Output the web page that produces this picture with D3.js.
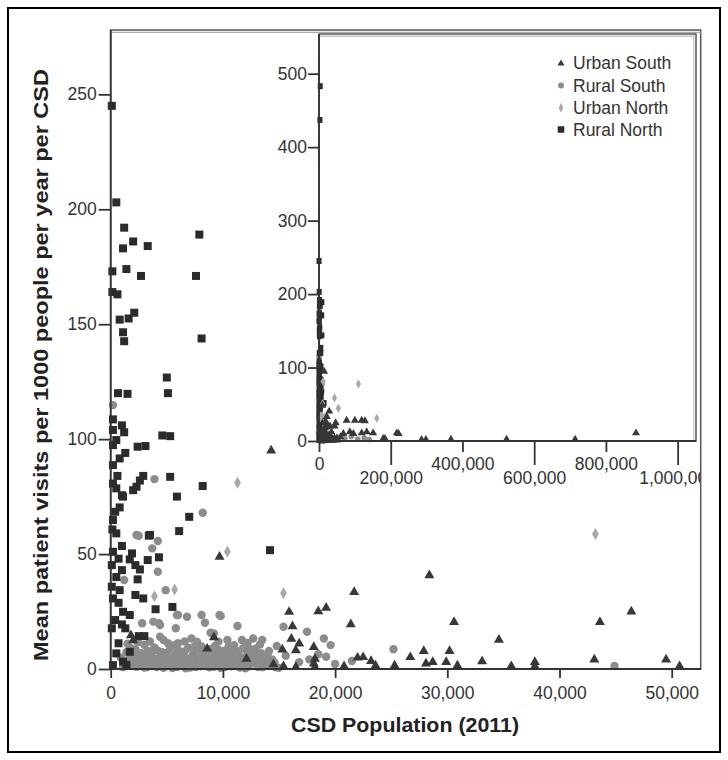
<!DOCTYPE html>
<html>
<head>
<meta charset="utf-8">
<script src="https://cdn.jsdelivr.net/npm/d3@7"></script>
<style>
  html, body { margin: 0; padding: 0; background: #fff; }
  svg { display: block; }
</style>
</head>
<body>
<svg id="chart" width="728" height="760"></svg>
<script>
// ---------------- DATA: [CSD population, mean visits per 1000 per year] ----------------
const seriesNames = ["Urban South", "Rural South", "Urban North", "Rural North"];

const urbanSouth = [
  [14300,95.2],[9700,49],[15900,25],[18500,25.3],[19200,26.8],[16200,18.7],[16100,13.3],[16800,11.2],
  [18100,9.7],[28400,40.9],[21700,33.6],[21400,19.6],[30600,20.6],[16500,8.3],[18200,4.6],[26700,5.3],
  [27900,8],[30200,8],[28700,3.2],[28100,2.5],[29900,3.2],[30900,1.7],[25300,1.7],[33100,3.5],[22000,5.1],
  [22500,5.3],[23200,3.6],[23600,1.7],[20800,1.3],[18100,2.5],[16500,1],[18200,1],[46400,25.2],[43600,20.6],
  [34600,12.9],[43100,4.3],[49500,4.3],[50700,1.4],[37800,3.2],[37800,1.4],[35700,1.4],[15300,8.6],
  [14500,2.2],[15400,1.3],[9200,14],[8600,9],[12100,4.6],[1800,14.8],[2000,12.6],
  [77000,28.6],[100000,28.6],[119000,28.6],[128000,27.7],[68000,10.5],[86000,12.7],[96000,10.5],
  [119000,11.3],[133000,12.7],[151000,11.3],[60000,6],[179000,3.7],[184000,3.7],[217000,11.3],
  [222000,10.5],[286000,2.3],[298000,2.3],[368000,2.7],[523000,2.7],[714000,2.7],[884000,11.3]
];

const ruralSouth = [
  [200,114.8],[3900,82.6],[8200,68],[2500,58],[4200,55.7],[3700,52.5],[4200,42.3],[4900,34.3],[2300,58.3],
  [5900,23.5],[4300,19.9],[9800,23],[8100,23.5],[6800,22.7],[11300,18.7],[15400,18.4],[17500,16.2],
  [5100,11.2],[7200,13.3],[13500,12.6],[9200,15.5],[19000,13.3],[19600,10.4],[18500,6.4],[19200,5.3],
  [25200,8.6],[21500,3.5],[20000,2.2],[44900,1.3],[6000,23.5],[9700,23.5],[8400,20.1],[5800,17.7],
  [3800,20.6],[4400,19.1],[2800,19.9],[8900,15.8],[10400,12.6],[12700,13.3],[11700,12.6],[4400,14],
  [6000,11.2],[9300,10],[8000,8.3],[10700,8.6],[12400,8.6],[13000,2.2],[13800,2.2],[1200,38.7],
  [1600,4],[1900,2],[2100,6],[2300,1],[2500,3.5],[2700,7],[2900,2.5],[3100,5],[3200,0.8],[3400,3],
  [3600,6.5],[3800,1.5],[4000,4.5],[4200,8],[4300,2],[4500,5.5],[4700,0.5],[4800,3.5],[5000,7],[5200,1.8],
  [5400,4.8],[5600,2.6],[5700,6.2],[5900,0.9],[6100,3.9],[6300,5.6],[6400,1.4],[6600,7.6],[6800,2.9],
  [7000,4.4],[7100,0.6],[7300,6],[7500,2.2],[7700,3.6],[7800,5],[8000,1.2],[8200,7.2],[8400,3.1],
  [8600,4.8],[8800,0.7],[9000,2.6],[9100,6.4],[9300,3.8],[9500,1.6],[9700,5.2],[9900,2.9],[10100,7.8],
  [10200,0.9],[10400,4.1],[10600,2.3],[10800,5.8],[11000,1.5],[11200,3.4],[11400,6.9],[11500,0.6],
  [11700,4.6],[11900,2.1],[12100,5.5],[12300,1.1],[12500,3.7],[12800,6.1],[13000,2.8],[13200,4.9],
  [13500,0.8],[13700,3.3],[14000,5.4],[14300,1.9],[14600,2.7],[15000,0.5],[1800,9],[3000,10.5],
  [3500,12],[5600,10.2],[6600,12],[7400,9.6],[11000,10.4],[12200,11.3],[14800,10],[15600,5.8],
  [16800,3],[17700,4.2],[1300,2.5],[900,5],[1500,11],
  [1700,6.8],[2000,3.2],[2200,8.5],[2600,1.8],[2800,5.2],[3000,0.6],[3300,7.9],[3500,2.2],[3700,4.1],
  [3900,9.4],[4100,0.9],[4400,3.4],[4600,7.3],[4900,1.2],[5100,5.1],[5300,9.1],[5500,0.4],[5800,4.1],
  [6000,8.3],[6200,2.0],[6500,5.2],[6700,0.3],[6900,9.3],[7200,3.1],[7400,7.6],[7600,0.9],[7900,4.0],
  [8100,9.8],[8300,1.8],[8500,6.1],[8700,2.4],[8900,8.6],[9200,1.0],[9400,5.9],[9600,8.4],[9800,0.4],
  [10000,3.6],[10300,6.2],[10500,9.6],[10700,1.2],[10900,3.9],[11100,8.2],[11300,5.1],[11600,2.6],
  [11800,9.1],[12000,0.3],[12200,7.2],[12400,2.5],[12600,5.3],[12900,8.8],[13100,0.9],[13400,6.9],
  [13600,4.2],[13900,1.4],[14100,7.8],[14400,4.1],[14700,0.7],[2400,11.6],[4700,12.6],[7700,11.8],
  [9600,11.9],[13300,10.7],[1400,7.3],[1100,0.8],
  [56000,5],[72000,3],[90000,6],[108000,2.5],[126000,4],[140000,2]
];

const urbanNorth = [
  [11300,81],[10400,51],[5700,34.6],[3900,31.7],[15400,33],[43200,58.7],
  [110000,77.6],[54000,44.5],[161000,31]
];

const ruralNorth = [
  [100,245],[500,203],[1200,192],[1100,183],[2000,186],[3300,184],[7900,189],[150,173],[1400,174],
  [2700,171],[7600,171],[150,164],[600,163],[800,152],[1600,152.5],[2100,155],[1100,146.5],[1200,142.6],
  [8100,143.8],[5000,126.8],[5100,120],[650,120],[1500,119.7],[200,108.6],[1000,106],[200,104],
  [1200,103],[500,99.6],[200,97.4],[4600,101.6],[5300,101.3],[2400,96.7],[3100,97],[1300,94],[800,91.6],
  [200,88.7],[600,84],[2900,84],[2600,82],[5300,83.6],[8200,79.6],[500,78.6],[2000,77.8],[5900,75],
  [1000,75.6],[2300,79.3],[200,80.7],[400,68.4],[800,70.3],[1100,75],[7000,66.2],[6100,60],[3400,58],
  [4300,48.6],[3300,47.4],[14200,51.7],[150,60.7],[500,59],[200,64.8],[1000,53.5],[1900,50.3],
  [1700,47.7],[2200,45.2],[2600,43.3],[2400,39],[200,51],[700,48],[100,45.2],[1000,43],[500,40],
  [100,35.8],[800,34.3],[2200,32.2],[2900,30.7],[200,30.7],[700,28.8],[1100,24.9],[1700,23.5],
  [400,21.3],[1000,19.4],[100,17.7],[1300,17.7],[2500,14.3],[3000,14.3],[700,11.2],[500,6.8],[1700,7.5],
  [1100,3.2],[200,1.7],[1400,1.7],[4000,26],[5500,27],[3500,58.3],[2500,437],[3500,483]
];

const mainXTicks = [0, 10000, 20000, 30000, 40000, 50000];
const mainYTicks = [0, 50, 100, 150, 200, 250];
const insetXTicks = [0, 200000, 400000, 600000, 800000, 1000000];
const insetYTicks = [0, 100, 200, 300, 400, 500];

const xTitle = "CSD Population (2011)";
const yTitle = "Mean patient visits per 1000 people per year per CSD";

// ---------------- DRAWING ----------------
const svg = d3.select("#chart");
const FONT = "Arial, 'Liberation Sans', sans-serif";
const AX = "#333";

const colors = { "Urban South": "#383838", "Rural South": "#8c8c8c", "Urban North": "#a8a8a8", "Rural North": "#2b2b2b" };

function shapePath(name, s) {
  if (name === "Urban South") {
    const w = s.tri, h = w * 0.87;
    return `M0,${-h*0.62}L${w/2},${h*0.38}L${-w/2},${h*0.38}Z`;
  }
  if (name === "Rural South") {
    const r = s.circ;
    return `M${r},0A${r},${r} 0 1,1 ${-r},0A${r},${r} 0 1,1 ${r},0Z`;
  }
  if (name === "Urban North") {
    const w = s.diaW, h = s.diaH;
    return `M0,${-h}L${w},0L0,${h}L${-w},0Z`;
  }
  const a = s.sqW / 2, b = s.sqH / 2;
  return `M${-a},${-b}H${a}V${b}H${-a}Z`;
}

const datasets = [
  ["Rural South", ruralSouth],
  ["Rural North", ruralNorth],
  ["Urban North", urbanNorth],
  ["Urban South", urbanSouth]
];

// Outer border
svg.append("rect").attr("x", 8).attr("y", 8).attr("width", 712).attr("height", 744)
  .attr("fill", "none").attr("stroke", "#000").attr("stroke-width", 2);

// ---------- Main chart ----------
const xMain = d3.scaleLinear().domain([0, 52610]).range([110.7, 701]);
const yMain = d3.scaleLinear().domain([0, 278]).range([669, 30]);

svg.append("rect").attr("x", 110.7).attr("y", 30).attr("width", 590).attr("height", 639)
  .attr("fill", "none").attr("stroke", "#555").attr("stroke-width", 1.5);
svg.append("line").attr("x1", 110.7).attr("x2", 701).attr("y1", 32.3).attr("y2", 32.3)
  .attr("stroke", "#999").attr("stroke-width", 1);

const mainSizes = { tri: 10, circ: 4.2, diaW: 3.4, diaH: 6, sqW: 8, sqH: 8 };
const gMain = svg.append("g");
datasets.forEach(([name, data]) => {
  const vis = data.filter(d => d[0] <= xMain.domain()[1] && d[1] <= yMain.domain()[1]);
  gMain.selectAll(null).data(vis).enter().append("path")
    .attr("d", shapePath(name, mainSizes))
    .attr("transform", d => `translate(${xMain(d[0])},${yMain(d[1])})`)
    .attr("fill", colors[name]);
});

const axXMain = svg.append("g").attr("transform", "translate(0,669)")
  .call(d3.axisBottom(xMain).tickValues(mainXTicks).tickFormat(d3.format(",")).tickSize(9).tickPadding(9).tickSizeOuter(0));
const axYMain = svg.append("g").attr("transform", "translate(110.7,0)")
  .call(d3.axisLeft(yMain).tickValues(mainYTicks).tickSize(12).tickPadding(2).tickSizeOuter(0));
[axXMain, axYMain].forEach(g => {
  g.select(".domain").attr("stroke", AX).attr("stroke-width", 1.8);
  g.selectAll(".tick line").attr("stroke", AX).attr("stroke-width", 1.8);
  g.selectAll(".tick text").attr("font-size", 17.5).attr("fill", "#333").attr("font-family", FONT);
});
axYMain.select(".domain").attr("d", "M0,30V669");
axXMain.select(".domain").attr("d", "M110.7,0H701");

// ---------- Inset ----------
const xIn = d3.scaleLinear().domain([0, 1054000]).range([319, 697]);
const yIn = d3.scaleLinear().domain([0, 554]).range([441, 34]);

svg.append("rect").attr("x", 319).attr("y", 34).attr("width", 377).attr("height", 407)
  .attr("fill", "#fff").attr("stroke", "#555").attr("stroke-width", 1.5);
svg.append("line").attr("x1", 319).attr("x2", 696).attr("y1", 36.2).attr("y2", 36.2)
  .attr("stroke", "#aaa").attr("stroke-width", 1);
svg.append("line").attr("x1", 693.8).attr("x2", 693.8).attr("y1", 36).attr("y2", 441)
  .attr("stroke", "#bbb").attr("stroke-width", 1);

const inSizes = { tri: 8, circ: 2.8, diaW: 2.6, diaH: 4.6, sqW: 5, sqH: 6 };
const gIn = svg.append("g");
datasets.forEach(([name, data]) => {
  gIn.selectAll(null).data(data).enter().append("path")
    .attr("d", shapePath(name, inSizes))
    .attr("transform", d => `translate(${xIn(d[0])},${yIn(d[1])})`)
    .attr("fill", colors[name]);
});

svg.append("clipPath").attr("id", "inClip").append("rect")
  .attr("x", 250).attr("y", -10).attr("width", 450).attr("height", 70);

const axXIn = svg.append("g").attr("transform", "translate(0,441)").attr("clip-path", "url(#inClip)")
  .call(d3.axisBottom(xIn).tickValues(insetXTicks).tickFormat(d3.format(",")).tickSize(11).tickPadding(6).tickSizeOuter(0));
axXIn.selectAll(".tick").each(function(d, i) {
  const t = d3.select(this);
  if (i % 2 === 1) {
    t.select("line").attr("y2", 24);
    t.select("text").attr("y", 31);
  }
});
const axYIn = svg.append("g").attr("transform", "translate(319,0)")
  .call(d3.axisLeft(yIn).tickValues(insetYTicks).tickSize(11).tickPadding(1).tickSizeOuter(0));
[axXIn, axYIn].forEach(g => {
  g.select(".domain").attr("stroke", AX).attr("stroke-width", 1.8);
  g.selectAll(".tick line").attr("stroke", AX).attr("stroke-width", 1.8);
  g.selectAll(".tick text").attr("font-size", 17.5).attr("fill", "#333").attr("font-family", FONT);
});
axYIn.select(".domain").attr("d", "M0,34V441");
axXIn.select(".domain").attr("d", "M319,0H696");

// legend
const legSizes = { tri: 7, circ: 3, diaW: 2.4, diaH: 4.8, sqW: 6.5, sqH: 6.5 };
const legY = [63.3, 85.5, 107.7, 129.5];
seriesNames.forEach((name, i) => {
  const g = svg.append("g").attr("transform", `translate(561,${legY[i]})`);
  g.append("path").attr("d", shapePath(name, legSizes)).attr("fill", colors[name]);
  g.append("text").attr("x", 12).attr("y", 6).attr("font-family", FONT).attr("font-size", 17.5)
    .attr("fill", "#333").text(name);
});

// titles
svg.append("text").attr("x", 405).attr("y", 732).attr("text-anchor", "middle")
  .attr("font-family", FONT).attr("font-weight", "bold").attr("font-size", 20).attr("fill", "#222")
  .attr("textLength", 228).attr("lengthAdjust", "spacingAndGlyphs").text(xTitle);
svg.append("text").attr("transform", "translate(48,365) rotate(-90)").attr("text-anchor", "middle")
  .attr("font-family", FONT).attr("font-weight", "bold").attr("font-size", 20).attr("fill", "#222")
  .attr("textLength", 592).attr("lengthAdjust", "spacingAndGlyphs").text(yTitle);
</script>
</body>
</html>
